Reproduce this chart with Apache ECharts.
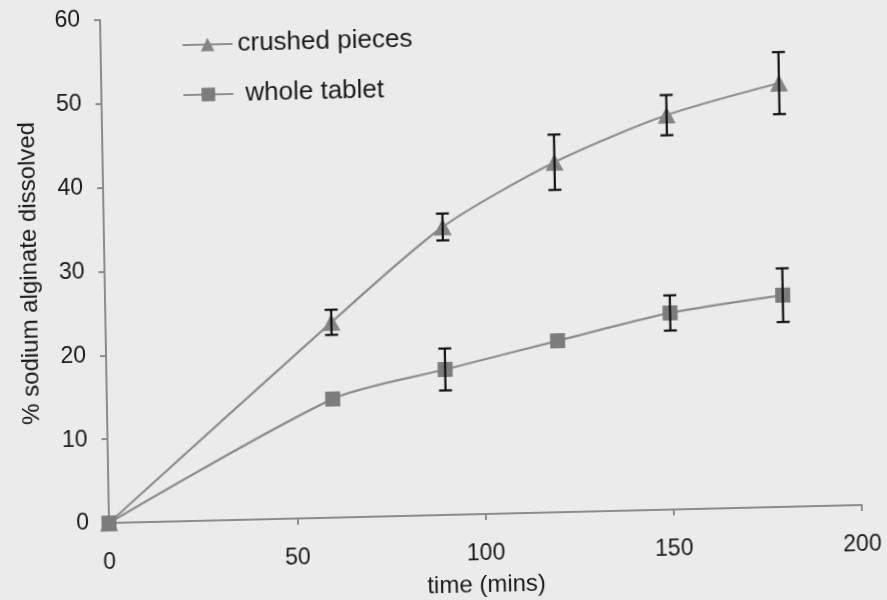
<!DOCTYPE html>
<html>
<head>
<meta charset="utf-8">
<script src="https://cdn.jsdelivr.net/npm/echarts@6/dist/echarts.min.js"></script>
<style>
  html, body { margin: 0; padding: 0; background: #ebebeb; overflow: hidden; width: 887px; height: 600px; }
  #chart {
    width: 887px; height: 640px;
    /* slight skew of the printed page: x axis leans ~1.4deg, y axis ~1.0deg */
    transform: matrix(0.99971, -0.0239, 0.0178, 0.99984, 0, 0);
    transform-origin: 109px 523px;
  }
</style>
</head>
<body>
<div id="chart"></div>
<script>
// Sampling times (minutes)
const times = [0, 60, 90, 120, 150, 180];
// % sodium alginate dissolved, mean values
const crushed = [0, 23.3, 34.35, 41.75, 47.05, 50.55];
const whole = [0, 14.15, 17.35, 20.45, 23.45, 25.25];
// standard deviations (error bar half-heights)
const crushedErr = [0, 1.5, 1.6, 3.3, 2.4, 3.7];
const wholeErr = [0, 0, 2.5, 0, 2.1, 3.2];
// axis tick values
const xTicks = [0, 50, 100, 150, 200];
const yTicks = [0, 10, 20, 30, 40, 50, 60];

const FONT = 'Liberation Sans, Arial, sans-serif';
const AXIS_GREY = '#8c8c8c';

const pairs = (xs, ys) => xs.map((x, i) => [x, ys[i]]);
const triples = (xs, ys, es) => xs.map((x, i) => [x, ys[i], es[i]]);

function errorBars(params, api) {
  const x = api.value(0), y = api.value(1), e = api.value(2);
  if (!e) return null;
  const top = api.coord([x, y + e]);
  const bot = api.coord([x, y - e]);
  const cap = 6.5;
  const style = { stroke: '#111', lineWidth: 2.2 };
  return {
    type: 'group',
    children: [
      { type: 'line', shape: { x1: top[0], y1: top[1], x2: bot[0], y2: bot[1] }, style },
      { type: 'line', shape: { x1: top[0] - cap, y1: top[1], x2: top[0] + cap, y2: top[1] }, style },
      { type: 'line', shape: { x1: bot[0] - cap, y1: bot[1], x2: bot[0] + cap, y2: bot[1] }, style }
    ]
  };
}

const chart = echarts.init(document.getElementById('chart'), null, { renderer: 'canvas' });
chart.setOption({
  backgroundColor: '#ebebeb',
  animation: false,
  textStyle: { fontFamily: FONT },
  grid: {
    left: 109, top: 20, width: 753, height: 503,
    containLabel: false,
    outerBoundsMode: 'none'
  },
  legend: {
    orient: 'vertical',
    left: 190,
    top: 34,
    padding: 0,
    itemWidth: 50,
    itemHeight: 17,
    itemGap: 24,
    textStyle: { fontFamily: FONT, fontSize: 26, color: '#1a1a1a' },
    data: [
      { name: 'crushed pieces' },
      { name: 'whole tablet', textStyle: { padding: [0, 0, 0, 7] } }
    ]
  },
  xAxis: {
    type: 'value',
    min: 0, max: 200, interval: 50,
    name: 'time (mins)',
    nameLocation: 'middle',
    nameGap: 59,
    nameTextStyle: { fontFamily: FONT, fontSize: 24, color: '#1a1a1a' },
    axisLine: { show: true, onZero: false, lineStyle: { color: AXIS_GREY, width: 2 } },
    axisTick: { show: true, inside: false, length: 6, lineStyle: { color: AXIS_GREY, width: 2 } },
    axisLabel: {
      fontFamily: FONT, fontSize: 23, color: '#1a1a1a', margin: 28,
      formatter: v => xTicks.includes(v) ? String(v) : ''
    },
    splitLine: { show: false }
  },
  yAxis: {
    type: 'value',
    min: 0, max: 60, interval: 10,
    name: '% sodium alginate dissolved',
    nameLocation: 'middle',
    nameGap: 63,
    nameTextStyle: { fontFamily: FONT, fontSize: 24, color: '#1a1a1a' },
    axisLine: { show: true, lineStyle: { color: AXIS_GREY, width: 2 } },
    axisTick: { show: true, inside: false, length: 6, lineStyle: { color: AXIS_GREY, width: 2 } },
    axisLabel: {
      fontFamily: FONT, fontSize: 23, color: '#1a1a1a', margin: 20,
      formatter: v => yTicks.includes(v) ? String(v) : ''
    },
    splitLine: { show: false }
  },
  series: [
    {
      name: 'crushed pieces',
      type: 'line',
      data: pairs(times, crushed),
      smooth: 0.25,
      symbol: 'triangle',
      symbolSize: [18, 17],
      lineStyle: { color: '#8e8e8e', width: 2.2 },
      itemStyle: { color: '#858585' },
      z: 3
    },
    {
      name: 'whole tablet',
      type: 'line',
      data: pairs(times, whole),
      smooth: 0.25,
      symbol: 'rect',
      symbolSize: 15,
      lineStyle: { color: '#8e8e8e', width: 2.2 },
      itemStyle: { color: '#7c7c7c' },
      z: 3
    },
    {
      type: 'custom',
      name: 'crushed error',
      renderItem: errorBars,
      data: triples(times, crushed, crushedErr),
      encode: { x: 0, y: 1 },
      z: 5
    },
    {
      type: 'custom',
      name: 'whole error',
      renderItem: errorBars,
      data: triples(times, whole, wholeErr),
      encode: { x: 0, y: 1 },
      z: 5
    }
  ]
});
</script>
</body>
</html>
